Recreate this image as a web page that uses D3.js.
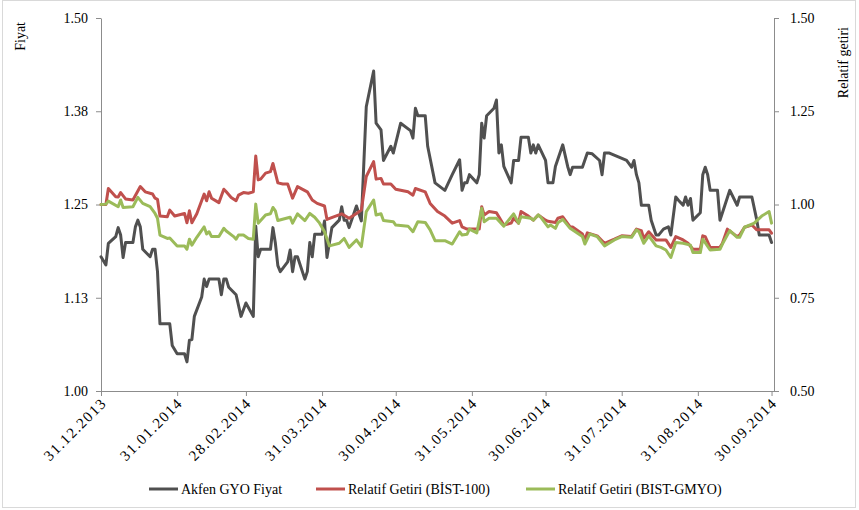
<!DOCTYPE html>
<html><head><meta charset="utf-8">
<script src="https://cdn.jsdelivr.net/npm/d3@7"></script>
<style>
body{margin:0;background:#fff}
svg{display:block}
text{font-family:"Liberation Serif","Times New Roman",serif;fill:#000}
</style>
</head><body><svg id="chart" width="859" height="510"></svg>
<script>
// ---------- DATA ----------
const priceDates = ["2013-12-31","2014-01-02","2014-01-03","2014-01-06","2014-01-07","2014-01-08","2014-01-09","2014-01-10","2014-01-13","2014-01-14","2014-01-15","2014-01-16","2014-01-17","2014-01-20","2014-01-21","2014-01-22","2014-01-23","2014-01-24","2014-01-28","2014-01-29","2014-01-31","2014-02-03","2014-02-04","2014-02-05","2014-02-06","2014-02-07","2014-02-10","2014-02-11","2014-02-12","2014-02-13","2014-02-17","2014-02-18","2014-02-19","2014-02-20","2014-02-21","2014-02-24","2014-02-26","2014-02-28","2014-03-03","2014-03-04","2014-03-05","2014-03-06","2014-03-10","2014-03-11","2014-03-12","2014-03-13","2014-03-14","2014-03-17","2014-03-18","2014-03-19","2014-03-20","2014-03-21","2014-03-24","2014-03-25","2014-03-26","2014-03-27","2014-03-28","2014-03-31","2014-04-01","2014-04-02","2014-04-04","2014-04-07","2014-04-08","2014-04-09","2014-04-10","2014-04-11","2014-04-14","2014-04-16","2014-04-18","2014-04-21","2014-04-22","2014-04-24","2014-04-25","2014-04-28","2014-04-29","2014-05-02","2014-05-06","2014-05-07","2014-05-08","2014-05-09","2014-05-12","2014-05-13","2014-05-16","2014-05-20","2014-05-23","2014-05-26","2014-05-27","2014-05-28","2014-05-29","2014-05-30","2014-06-02","2014-06-03","2014-06-04","2014-06-05","2014-06-06","2014-06-09","2014-06-10","2014-06-11","2014-06-12","2014-06-13","2014-06-16","2014-06-17","2014-06-19","2014-06-20","2014-06-23","2014-06-24","2014-06-25","2014-06-26","2014-06-27","2014-06-30","2014-07-01","2014-07-03","2014-07-04","2014-07-07","2014-07-09","2014-07-10","2014-07-11","2014-07-15","2014-07-17","2014-07-19","2014-07-22","2014-07-23","2014-07-24","2014-07-26","2014-08-02","2014-08-04","2014-08-05","2014-08-06","2014-08-07","2014-08-08","2014-08-11","2014-08-12","2014-08-14","2014-08-15","2014-08-17","2014-08-19","2014-08-20","2014-08-22","2014-08-23","2014-08-25","2014-08-26","2014-08-27","2014-08-28","2014-08-29","2014-09-01","2014-09-02","2014-09-03","2014-09-04","2014-09-05","2014-09-08","2014-09-09","2014-09-11","2014-09-13","2014-09-16","2014-09-17","2014-09-22","2014-09-24","2014-09-25","2014-09-29","2014-09-30"];
const priceValues = [1.180,1.169,1.198,1.207,1.219,1.209,1.179,1.199,1.199,1.220,1.229,1.220,1.190,1.180,1.190,1.190,1.160,1.090,1.090,1.061,1.050,1.050,1.039,1.068,1.069,1.100,1.126,1.150,1.140,1.150,1.150,1.129,1.150,1.150,1.139,1.129,1.100,1.118,1.100,1.221,1.180,1.190,1.190,1.219,1.198,1.168,1.160,1.173,1.189,1.160,1.180,1.180,1.150,1.160,1.199,1.180,1.210,1.210,1.228,1.179,1.219,1.229,1.247,1.229,1.229,1.219,1.248,1.228,1.381,1.429,1.359,1.350,1.309,1.328,1.319,1.359,1.349,1.339,1.379,1.369,1.369,1.328,1.279,1.269,1.290,1.310,1.269,1.279,1.279,1.290,1.279,1.290,1.359,1.339,1.369,1.379,1.390,1.319,1.330,1.301,1.279,1.309,1.309,1.340,1.340,1.319,1.330,1.319,1.330,1.309,1.279,1.279,1.301,1.330,1.301,1.290,1.300,1.300,1.319,1.318,1.309,1.290,1.319,1.319,1.309,1.300,1.309,1.290,1.279,1.249,1.249,1.229,1.209,1.209,1.217,1.220,1.209,1.260,1.256,1.249,1.260,1.249,1.258,1.229,1.239,1.290,1.300,1.290,1.269,1.269,1.229,1.249,1.269,1.249,1.260,1.260,1.229,1.209,1.209,1.199];

const bist100Dates = ["2013-12-31","2014-01-02","2014-01-03","2014-01-06","2014-01-07","2014-01-08","2014-01-10","2014-01-13","2014-01-16","2014-01-18","2014-01-21","2014-01-22","2014-01-23","2014-01-24","2014-01-27","2014-01-28","2014-01-30","2014-02-03","2014-02-04","2014-02-05","2014-02-06","2014-02-08","2014-02-11","2014-02-12","2014-02-13","2014-02-14","2014-02-17","2014-02-19","2014-02-20","2014-02-22","2014-02-24","2014-02-25","2014-02-27","2014-03-01","2014-03-03","2014-03-04","2014-03-05","2014-03-06","2014-03-08","2014-03-10","2014-03-11","2014-03-12","2014-03-13","2014-03-15","2014-03-17","2014-03-19","2014-03-21","2014-03-25","2014-03-27","2014-03-29","2014-04-01","2014-04-02","2014-04-08","2014-04-11","2014-04-14","2014-04-16","2014-04-18","2014-04-21","2014-04-22","2014-04-24","2014-04-25","2014-04-28","2014-04-30","2014-05-05","2014-05-07","2014-05-08","2014-05-12","2014-05-14","2014-05-17","2014-05-20","2014-05-23","2014-05-26","2014-05-27","2014-05-29","2014-06-03","2014-06-04","2014-06-05","2014-06-07","2014-06-10","2014-06-13","2014-06-16","2014-06-17","2014-06-19","2014-06-20","2014-06-23","2014-06-25","2014-06-27","2014-06-30","2014-07-01","2014-07-04","2014-07-05","2014-07-07","2014-07-10","2014-07-11","2014-07-15","2014-07-16","2014-07-17","2014-07-21","2014-07-24","2014-07-28","2014-07-31","2014-08-04","2014-08-06","2014-08-08","2014-08-09","2014-08-11","2014-08-14","2014-08-18","2014-08-20","2014-08-22","2014-08-25","2014-08-27","2014-08-29","2014-09-01","2014-09-02","2014-09-03","2014-09-05","2014-09-09","2014-09-10","2014-09-12","2014-09-16","2014-09-17","2014-09-19","2014-09-22","2014-09-24","2014-09-29","2014-09-30"];
const bist100Values = [1.000,1.000,1.043,1.021,1.020,1.032,1.015,1.012,1.048,1.034,1.028,1.017,1.014,0.969,0.967,0.985,0.969,0.976,0.951,0.983,0.951,0.975,1.028,1.010,1.034,1.017,1.005,1.041,1.034,1.019,1.010,1.025,1.032,1.030,1.034,1.130,1.066,1.068,1.084,1.088,1.110,1.084,1.058,1.055,1.055,1.017,1.048,1.034,1.012,1.003,0.996,0.960,0.975,0.963,0.976,0.985,1.075,1.115,1.068,1.070,1.055,1.055,1.041,1.034,1.025,1.043,1.034,1.003,0.981,0.969,0.950,0.957,0.940,0.934,0.934,0.994,0.972,0.981,0.978,0.945,0.950,0.963,0.950,0.981,0.969,0.958,0.972,0.958,0.955,0.952,0.963,0.967,0.940,0.940,0.921,0.905,0.924,0.916,0.896,0.907,0.916,0.914,0.934,0.930,0.909,0.927,0.905,0.905,0.885,0.914,0.905,0.896,0.880,0.880,0.916,0.914,0.885,0.885,0.896,0.934,0.914,0.918,0.939,0.945,0.932,0.932,0.923];

const gmyoDates = ["2013-12-31","2014-01-02","2014-01-03","2014-01-07","2014-01-08","2014-01-09","2014-01-13","2014-01-15","2014-01-17","2014-01-20","2014-01-22","2014-01-23","2014-01-24","2014-01-27","2014-01-28","2014-01-31","2014-02-03","2014-02-04","2014-02-05","2014-02-06","2014-02-08","2014-02-11","2014-02-12","2014-02-13","2014-02-14","2014-02-17","2014-02-19","2014-02-20","2014-02-23","2014-02-24","2014-02-25","2014-02-27","2014-03-01","2014-03-03","2014-03-04","2014-03-05","2014-03-06","2014-03-08","2014-03-10","2014-03-11","2014-03-12","2014-03-13","2014-03-18","2014-03-19","2014-03-21","2014-03-24","2014-03-26","2014-03-28","2014-03-30","2014-04-01","2014-04-03","2014-04-07","2014-04-09","2014-04-11","2014-04-14","2014-04-16","2014-04-18","2014-04-21","2014-04-22","2014-04-24","2014-04-25","2014-04-29","2014-04-30","2014-05-05","2014-05-07","2014-05-09","2014-05-12","2014-05-14","2014-05-16","2014-05-20","2014-05-23","2014-05-26","2014-05-27","2014-05-29","2014-05-30","2014-06-02","2014-06-04","2014-06-05","2014-06-07","2014-06-10","2014-06-13","2014-06-17","2014-06-19","2014-06-20","2014-06-24","2014-06-25","2014-06-27","2014-06-28","2014-07-01","2014-07-02","2014-07-04","2014-07-05","2014-07-07","2014-07-10","2014-07-15","2014-07-16","2014-07-18","2014-07-21","2014-07-24","2014-07-28","2014-07-31","2014-08-04","2014-08-06","2014-08-07","2014-08-09","2014-08-11","2014-08-14","2014-08-16","2014-08-18","2014-08-20","2014-08-22","2014-08-25","2014-08-28","2014-08-29","2014-09-01","2014-09-02","2014-09-05","2014-09-09","2014-09-10","2014-09-13","2014-09-16","2014-09-17","2014-09-19","2014-09-23","2014-09-24","2014-09-26","2014-09-29","2014-09-30"];
const gmyoValues = [1.000,1.001,1.009,0.994,1.012,0.992,0.994,1.019,1.003,0.994,0.976,0.963,0.918,0.909,0.910,0.889,0.889,0.880,0.907,0.891,0.912,0.940,0.921,0.927,0.914,0.914,0.936,0.929,0.914,0.907,0.918,0.918,0.909,0.907,1.001,0.950,0.957,0.972,0.975,0.992,0.983,0.957,0.966,0.950,0.975,0.957,0.976,0.966,0.950,0.927,0.889,0.896,0.909,0.885,0.905,0.887,0.981,1.012,0.972,0.975,0.957,0.954,0.945,0.942,0.927,0.954,0.952,0.932,0.903,0.903,0.894,0.927,0.918,0.920,0.934,0.924,0.990,0.954,0.963,0.963,0.942,0.975,0.950,0.967,0.963,0.958,0.972,0.966,0.940,0.945,0.936,0.951,0.960,0.936,0.914,0.894,0.921,0.914,0.889,0.905,0.914,0.912,0.932,0.927,0.896,0.916,0.889,0.885,0.878,0.858,0.898,0.896,0.891,0.871,0.871,0.907,0.878,0.880,0.894,0.930,0.912,0.912,0.939,0.950,0.957,0.969,0.981,0.950];

const seriesNames = ["Akfen GYO Fiyat","Relatif Getiri (BİST-100)","Relatif Getiri (BIST-GMYO)"];
const leftTicks = [1.0,1.125,1.25,1.375,1.5];
const leftTickLabels = ["1.00","1.13","1.25","1.38","1.50"];
const rightTicks = [0.5,0.75,1.0,1.25,1.5];
const rightTickLabels = ["0.50","0.75","1.00","1.25","1.50"];
const xTickDates = ["2013-12-31","2014-01-31","2014-02-28","2014-03-31","2014-04-30","2014-05-31","2014-06-30","2014-07-31","2014-08-31","2014-09-30"];
const xTickLabels = ["31.12.2013","31.01.2014","28.02.2014","31.03.2014","30.04.2014","31.05.2014","30.06.2014","31.07.2014","31.08.2014","30.09.2014"];
const leftTitle = "Fiyat";
const rightTitle = "Relatif getiri";

// ---------- CHART ----------
const parse = d3.timeParse("%Y-%m-%d");
const svg = d3.select("#chart");
const M = {left:101, right:774, top:18, bottom:391};
const colors = ["#505050","#c0504d","#9bbb59"];
const axisColor = "#8c8c8c";
const fs = "14px";

svg.append("rect").attr("x",2.5).attr("y",0.5).attr("width",853).attr("height",507)
  .attr("fill","#fff").attr("stroke","#d9d9d9");

const x = d3.scaleTime().domain([parse("2013-12-31"), parse("2014-10-01")]).range([M.left, M.right]);
const yL = d3.scaleLinear().domain([1.0,1.5]).range([M.bottom, M.top]);
const yR = d3.scaleLinear().domain([0.5,1.5]).range([M.bottom, M.top]);

function styleAxis(g){
  g.selectAll("path.domain").attr("stroke",axisColor).attr("stroke-width",1);
  g.selectAll(".tick line").attr("stroke",axisColor).attr("stroke-width",1);
  g.selectAll(".tick text").style("font-size",fs).attr("fill","#000").style("font-family","'Liberation Serif',serif");
}

const gL = svg.append("g").attr("transform",`translate(${M.left},0)`)
  .call(d3.axisLeft(yL).tickValues(leftTicks).tickFormat((d,i)=>leftTickLabels[i]).tickSize(5).tickSizeOuter(0).tickPadding(8));
styleAxis(gL);

const gR = svg.append("g").attr("transform",`translate(${M.right},0)`)
  .call(d3.axisRight(yR).tickValues(rightTicks).tickFormat((d,i)=>rightTickLabels[i]).tickSize(5).tickSizeOuter(0).tickPadding(11));
styleAxis(gR);

const gB = svg.append("g").attr("transform",`translate(0,${M.bottom})`)
  .call(d3.axisBottom(x).tickValues(xTickDates.map(parse)).tickFormat((d,i)=>xTickLabels[i]).tickSize(5).tickSizeOuter(0));
styleAxis(gB);
gB.selectAll(".tick text")
  .attr("text-anchor","end")
  .attr("dy",null).attr("y",null)
  .style("font-size","15px")
  .style("letter-spacing","1.4px")
  .attr("transform","translate(6,13) rotate(-45)");

// axis titles
svg.append("text").attr("transform","translate(25,22) rotate(-90)")
  .attr("text-anchor","end").style("font-size",fs).text(leftTitle);
svg.append("text").attr("transform","translate(848,27) rotate(-90)")
  .attr("text-anchor","end").style("font-size",fs).text(rightTitle);

// lines
const series = [
  {dates: priceDates, values: priceValues, y: yL},
  {dates: bist100Dates, values: bist100Values, y: yR},
  {dates: gmyoDates, values: gmyoValues, y: yR}
];
series.forEach((s,i)=>{
  const pts = s.dates.map((d,j)=>[parse(d), s.values[j]]);
  const line = d3.line().x(p=>x(p[0])).y(p=>s.y(p[1]));
  svg.append("path").datum(pts).attr("d",line)
    .attr("fill","none").attr("stroke",colors[i]).attr("stroke-width",3)
    .attr("stroke-linejoin","round").attr("stroke-linecap","round");
});

// legend
const legendX = [149, 316, 526];
const leg = svg.append("g");
seriesNames.forEach((n,i)=>{
  leg.append("line").attr("x1",legendX[i]).attr("x2",legendX[i]+29).attr("y1",489).attr("y2",489)
    .attr("stroke",colors[i]).attr("stroke-width",3);
  leg.append("text").attr("x",legendX[i]+32).attr("y",494).style("font-size",fs).text(n);
});
</script>
</body></html>
